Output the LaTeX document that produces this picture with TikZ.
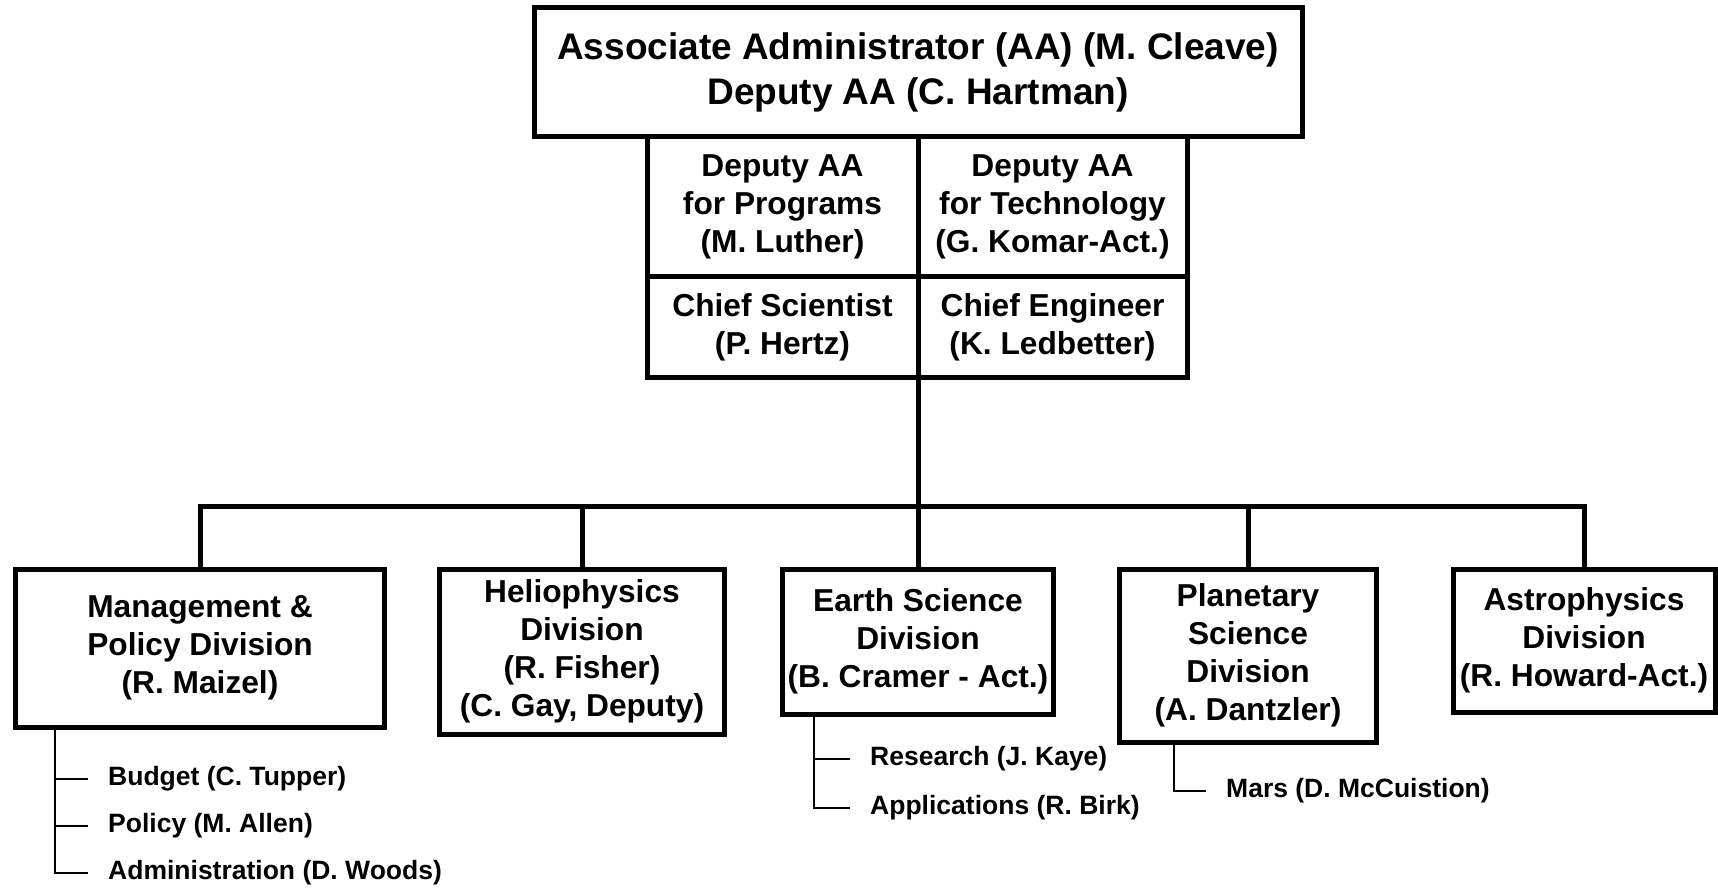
\documentclass[tikz,border=0pt]{standalone}
\usepackage{fontspec}
\setmainfont{Liberation Sans}
\usetikzlibrary{positioning, calc}

\begin{document}
\begin{tikzpicture}[x=1pt, y=-1pt,
  box/.style={rectangle, draw, line width=5pt, align=center, inner sep=2pt, font=\bfseries\fontsize{31.7}{38}\selectfont},
  subitem/.style={anchor=west, inner xsep=20pt, inner ysep=2pt, font=\bfseries\fontsize{26.5}{30}\selectfont},
  subline/.style={line width=2pt}]
\useasboundingbox (0,0) rectangle (1718,890);

% Top office
\node[box, minimum width=768pt, minimum height=129pt, font=\bfseries\fontsize{37}{45}\selectfont] (aa) at (918,72.5) {Associate Administrator (AA) (M. Cleave)\\Deputy AA (C. Hartman)};

% Deputies and chiefs
\node[box, minimum width=271pt, minimum height=140pt] (progs) at (782.5,207) {Deputy AA\\for Programs\\(M. Luther)};
\node[box, minimum width=269pt, minimum height=140pt] (tech) at (1052.5,207) {Deputy AA\\for Technology\\(G. Komar-Act.)};
\node[box, minimum width=271pt, minimum height=100pt] (chsci) at (782.5,327) {Chief Scientist\\(P. Hertz)};
\node[box, minimum width=269pt, minimum height=100pt] (cheng) at (1052.5,327) {Chief Engineer\\(K. Ledbetter)};

% Divisions
\node[box, minimum width=369pt, minimum height=158pt] (mpd) at (200,648) {Management \&\\Policy Division\\(R. Maizel)};
\node[box, minimum width=285pt, minimum height=165pt] (helio) at (582,651.5) {Heliophysics\\Division\\(R. Fisher)\\(C. Gay, Deputy)};
\node[box, minimum width=271pt, minimum height=145pt] (earth) at (918,641.5) {Earth Science\\Division\\(B. Cramer - Act.)};
\node[box, minimum width=257pt, minimum height=173pt] (planet) at (1248,655.5) {Planetary\\Science\\Division\\(A. Dantzler)};
\node[box, minimum width=262pt, minimum height=143pt] (astro) at (1584,640.5) {Astrophysics\\Division\\(R. Howard-Act.)};

% Bus
\coordinate (bus) at (918,506);
\draw[line width=5pt] (chsci.south -| bus) -- (bus);
\draw[line width=5pt] (mpd.north) |- (bus) -| (astro.north);
\foreach \d in {helio, earth, planet}
  \draw[line width=5pt] (\d.north) -- (\d.north |- bus);

% Branches
\node[subitem] (budget) at (88,779) {Budget (C. Tupper)};
\node[subitem] (policy) at (88,826) {Policy (M. Allen)};
\node[subitem] (admin) at (88,873) {Administration (D. Woods)};
\node[subitem] (research) at (850,759) {Research (J. Kaye)};
\node[subitem] (apps) at (850,808) {Applications (R. Birk)};
\node[subitem] (mars) at (1206,791) {Mars (D. McCuistion)};

\coordinate (mpdtrunk) at ([xshift=42pt]mpd.south west);
\coordinate (earthtrunk) at ([xshift=33.5pt]earth.south west);
\coordinate (planettrunk) at ([xshift=56.5pt]planet.south west);
\foreach \s in {budget, policy, admin}
  \draw[subline] (mpdtrunk) |- (\s.west);
\foreach \s in {research, apps}
  \draw[subline] (earthtrunk) |- (\s.west);
\draw[subline] (planettrunk) |- (mars.west);
\end{tikzpicture}
\end{document}
